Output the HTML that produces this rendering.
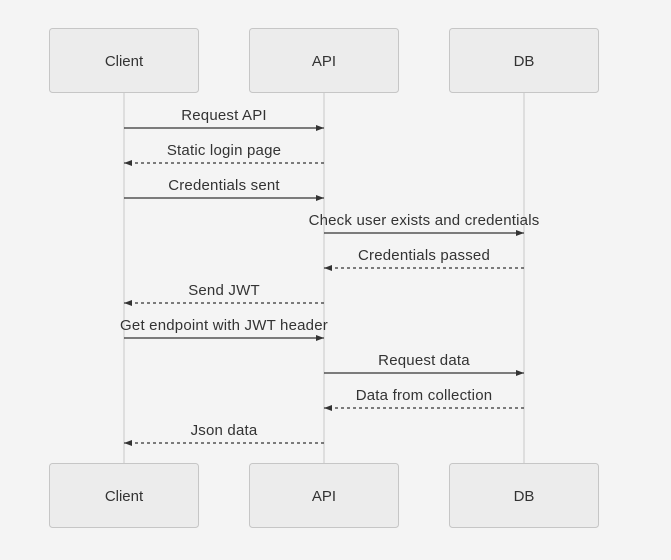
<!DOCTYPE html>
<html><head><style>
html,body{margin:0;padding:0;background:#f4f4f4;}
svg{display:block;font-family:"Liberation Sans",sans-serif;}
</style></head><body>
<svg width="671" height="560" viewBox="0 0 671 560" xmlns="http://www.w3.org/2000/svg">
<defs>
<marker id="a" markerWidth="8" markerHeight="6" refX="8" refY="3" orient="auto" markerUnits="userSpaceOnUse"><path d="M0,0 L8,3 L0,6 z" fill="#333"/></marker>
</defs>
<rect width="671" height="560" fill="#f4f4f4"/>
<g stroke="#c8c8c8" stroke-width="1">
<line x1="124" y1="92" x2="124" y2="463"/>
<line x1="324" y1="92" x2="324" y2="463"/>
<line x1="524" y1="92" x2="524" y2="463"/>
</g>
<g fill="#ececec" stroke="#c6c6c6" stroke-width="1">
<rect x="49.5" y="28.5" width="149" height="64" rx="3"/>
<rect x="249.5" y="28.5" width="149" height="64" rx="3"/>
<rect x="449.5" y="28.5" width="149" height="64" rx="3"/>
<rect x="49.5" y="463.5" width="149" height="64" rx="3"/>
<rect x="249.5" y="463.5" width="149" height="64" rx="3"/>
<rect x="449.5" y="463.5" width="149" height="64" rx="3"/>
</g>
<g font-size="15" fill="#333" text-anchor="middle">
<text x="124" y="66">Client</text><text x="324" y="66">API</text><text x="524" y="66">DB</text>
<text x="124" y="501">Client</text><text x="324" y="501">API</text><text x="524" y="501">DB</text>
</g>
<g stroke="#333" stroke-width="1.3" marker-end="url(#a)">
<line x1="124" y1="128" x2="324" y2="128"/>
<line x1="324" y1="163" x2="124" y2="163" stroke-dasharray="3,3"/>
<line x1="124" y1="198" x2="324" y2="198"/>
<line x1="324" y1="233" x2="524" y2="233"/>
<line x1="524" y1="268" x2="324" y2="268" stroke-dasharray="3,3"/>
<line x1="324" y1="303" x2="124" y2="303" stroke-dasharray="3,3"/>
<line x1="124" y1="338" x2="324" y2="338"/>
<line x1="324" y1="373" x2="524" y2="373"/>
<line x1="524" y1="408" x2="324" y2="408" stroke-dasharray="3,3"/>
<line x1="324" y1="443" x2="124" y2="443" stroke-dasharray="3,3"/>
</g>
<g font-size="15" fill="#333" text-anchor="middle" letter-spacing="0.2">
<text x="224" y="120">Request API</text>
<text x="224" y="155">Static login page</text>
<text x="224" y="190">Credentials sent</text>
<text x="424" y="225">Check user exists and credentials</text>
<text x="424" y="260">Credentials passed</text>
<text x="224" y="295">Send JWT</text>
<text x="224" y="330">Get endpoint with JWT header</text>
<text x="424" y="365">Request data</text>
<text x="424" y="400">Data from collection</text>
<text x="224" y="435">Json data</text>
</g>
</svg>
</body></html>
